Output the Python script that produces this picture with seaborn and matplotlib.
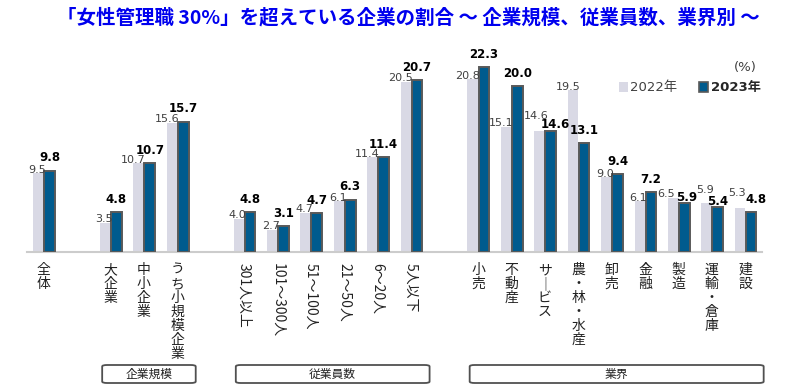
import matplotlib
matplotlib.use('Agg')
import matplotlib.pyplot as plt
from matplotlib.patches import FancyBboxPatch, Patch
import matplotlib.transforms as mtransforms
import seaborn as sns
import pandas as pd

sns.set_style('white')
plt.rcParams['font.family'] = ['DejaVu Sans', 'Noto Sans CJK JP']

# data
categories = ['全体', '大企業', '中小企業', 'うち小規模企業',
              '301人以上', '101～300人', '51～100人', '21～50人', '6～20人', '5人以下',
              '小売', '不動産', 'サービス', '農・林・水産', '卸売', '金融', '製造', '運輸・倉庫', '建設']
values_2022 = [9.5, 3.5, 10.7, 15.6,
               4.0, 2.7, 4.7, 6.1, 11.4, 20.5,
               20.8, 15.1, 14.6, 19.5, 9.0, 6.1, 6.5, 5.9, 5.3]
values_2023 = [9.8, 4.8, 10.7, 15.7,
               4.8, 3.1, 4.7, 6.3, 11.4, 20.7,
               22.3, 20.0, 14.6, 13.1, 9.4, 7.2, 5.9, 5.4, 4.8]
group_names = ['企業規模', '従業員数', '業界']
group_sizes = [3, 6, 9]   # after 全体
years = ['2022年', '2023年']

# slot positions: 全体, gap, groups separated by one empty slot
slots = [0]
pos = 2
for n in group_sizes:
    slots += list(range(pos, pos + n))
    pos += n + 1

# hand-moved labels (extra offset in points, dx/dy) as in the original
move_22 = {'サービス': (1, 8), '製造': (-4, 0), '運輸・倉庫': (0, 7), '建設': (-1, 8)}
move_23 = {'サービス': (3.5, -4.5), '製造': (2, -5), '運輸・倉庫': (0, -5), '建設': (3.5, 0)}

c22 = '#d9d9e5'
c23 = '#005b8e'
edge = '#595959'
w = 0.32

df = pd.DataFrame({'cat': categories, 'slot': slots,
                   '2022': values_2022, '2023': values_2023})

fig = plt.figure(figsize=(8, 3.91), dpi=100)
ax = fig.add_axes([27 / 800, 1 - 252 / 391, 735 / 800, 199.2 / 391])

ax.bar(df['slot'] - 0.155, df['2022'], width=w, color=c22, linewidth=0, zorder=2)
ax.bar(df['slot'] + 0.175, df['2023'], width=w, color=c23, edgecolor=edge,
       linewidth=1.4, zorder=3)

ax.set_xlim(-0.5, 21.5)
ax.set_ylim(0, 24)
ax.set_xticks([])
ax.set_yticks([])
for s in ['top', 'right', 'left']:
    ax.spines[s].set_visible(False)
ax.spines['bottom'].set_color('#cccccc')
ax.spines['bottom'].set_linewidth(1.5)

# value labels
for c, x, a, b in zip(df['cat'], df['slot'], df['2022'], df['2023']):
    dx, dy = move_22.get(c, (0, 0))
    ax.annotate(f'{a:.1f}', (x + 0.06, a), xytext=(dx, -1 + dy),
                textcoords='offset points', ha='right', va='bottom', fontsize=8,
                color='#404040', zorder=4)
    dx, dy = move_23.get(c, (0, 0))
    ax.annotate(f'{b:.1f}', (x + 0.175, b), xytext=(dx, 4.5 + dy),
                textcoords='offset points', ha='center', va='bottom', fontsize=8.5,
                fontweight='bold', color='black', zorder=4)

# category labels
trans = mtransforms.blended_transform_factory(ax.transData, ax.transAxes)
y_lab = -11 / 199.2
cjk = ['Noto Sans CJK JP', 'DejaVu Sans']
for x, c in zip(df['slot'], df['cat']):
    if c[0].isdigit():
        ax.text(x, y_lab, c, transform=trans, rotation=-90, ha='center', va='top',
                fontsize=10, family=cjk, color='#222222')
    else:
        t = '\n'.join(c.replace('ー', '｜'))
        ax.text(x, y_lab, t, transform=trans, ha='center', va='top',
                fontsize=10, family=cjk, linespacing=1.0, color='#222222')

# group boxes
start = 2
for name, n in zip(group_names, group_sizes):
    x0, x1 = start - 0.25, start + n - 1 + 0.55
    y0, y1 = -131 / 199.2, -113 / 199.2
    box = FancyBboxPatch((x0, y0), x1 - x0, y1 - y0, transform=trans,
                         boxstyle='round,pad=0,rounding_size=0.15',
                         facecolor='white', edgecolor='#505050', linewidth=1.3,
                         clip_on=False, mutation_aspect=0.05)
    ax.add_patch(box)
    ax.text((x0 + x1) / 2, (y0 + y1) / 2, name, transform=trans, ha='center',
            va='center', fontsize=8.5, family=cjk, color='#222222')
    start += n + 1

# legend
handles = [Patch(facecolor=c22, edgecolor='none'),
           Patch(facecolor=c23, edgecolor=edge, linewidth=1.2)]
leg = fig.legend(handles, years, loc='center left', bbox_to_anchor=(612 / 800, 1 - 88 / 391),
                 ncol=2, frameon=False, fontsize=9.5, handlelength=0.7, handleheight=0.7,
                 handletextpad=0.2, columnspacing=1.6, borderpad=0)
leg.get_texts()[0].set_color('#404040')
leg.get_texts()[1].set_fontweight('bold')
fig.text(745 / 800, 1 - 67 / 391, '(%)', ha='center', va='center', fontsize=9.5,
         color='#404040')

# title
fig.text(408 / 800, 1 - 18 / 391,
         '「女性管理職 30%」を超えている企業の割合 ～ 企業規模、従業員数、業界別 ～',
         ha='center', va='center', fontsize=14, fontweight='bold', color='#0000ee',
         family=cjk)

fig.savefig('out.png', dpi=100)
